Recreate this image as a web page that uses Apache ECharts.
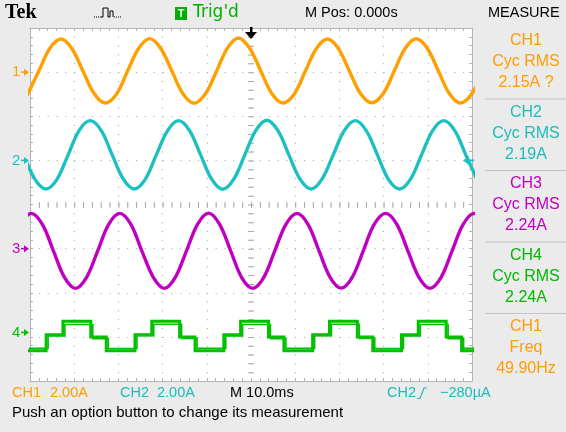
<!DOCTYPE html>
<html>
<head>
<meta charset="utf-8">
<script src="https://cdn.jsdelivr.net/npm/echarts@6/dist/echarts.min.js"></script>
<style>
  html, body { margin: 0; padding: 0; background: #ebebeb; }
  #scope { width: 566px; height: 432px; }
</style>
</head>
<body>
<div id="scope"></div>
<script>
// ---- channel setup -------------------------------------------------------
const channelLabels = ['1', '2', '3', '4'];
const channelColors = ['#ffa000', '#1cc0c0', '#c000c0', '#00c000'];
const channelPositions = [3.0, 1.0, -1.0, -2.9];   // ground marker, divisions
const ampsPerDiv = [2, 2, 2, 2];

// ---- acquired traces: time (ms from trigger) and current (A) --------------
const ch1Time = [-50.5, -48.0, -45.5, -43.0, -40.5, -38.0, -35.5, -33.0, -30.4, -27.9,
  -25.4, -22.9, -20.4, -17.9, -15.4, -12.9, -10.3, -7.8, -5.3, -2.8, -0.3, 2.2, 4.7,
  7.2, 9.8, 12.3, 14.8, 17.3, 19.8, 22.3, 24.8, 27.3, 29.9, 32.4, 34.9, 37.4, 39.9,
  42.4, 44.9, 47.4, 50.0, 52.5];
const ch1Amps = [-0.98, 0.05, 1.08, 1.50, 1.06, 0.04, -0.97, -1.40, -0.99, 0.06,
  1.08, 1.52, 1.07, 0.05, -0.98, -1.41, -0.98, 0.04, 1.10, 1.55, 1.08, 0.06, -0.97,
  -1.40, -0.99, 0.05, 1.07, 1.50, 1.06, 0.03, -0.98, -1.39, -0.98, 0.05, 1.08, 1.51,
  1.07, 0.05, -0.98, -1.40, -0.97, 0.06];

const ch2Time = [-51.4, -48.9, -46.4, -43.9, -41.4, -38.9, -36.4, -33.9, -31.4, -28.9,
  -26.4, -23.9, -21.4, -18.9, -16.4, -13.9, -11.4, -8.9, -6.4, -3.9, -1.4, 1.1, 3.6,
  6.1, 8.6, 11.1, 13.6, 16.1, 18.6, 21.1, 23.6, 26.1, 28.6, 31.1, 33.6, 36.1, 38.6,
  41.1, 43.6, 46.1, 48.6, 51.1];
const ch2Amps = [0.25, -0.85, -1.30, -0.86, 0.24, 1.35, 1.80, 1.36, 0.25, -0.84,
  -1.30, -0.85, 0.26, 1.34, 1.80, 1.35, 0.25, -0.85, -1.31, -0.85, 0.25, 1.36, 1.82,
  1.35, 0.24, -0.85, -1.30, -0.84, 0.25, 1.35, 1.80, 1.34, 0.25, -0.86, -1.30, -0.85,
  0.26, 1.35, 1.80, 1.35, 0.25, -0.85];

const ch3Time = [-52.2, -49.7, -47.2, -44.7, -42.2, -39.7, -37.2, -34.7, -32.2, -29.7,
  -27.2, -24.7, -22.1, -19.6, -17.1, -14.6, -12.1, -9.6, -7.1, -4.6, -2.1, 0.4, 2.9,
  5.4, 7.9, 10.4, 12.9, 15.4, 17.9, 20.4, 22.9, 25.4, 27.9, 30.5, 33.0, 35.5, 38.0,
  40.5, 43.0, 45.5, 48.0, 50.5, 53.0];
const ch3Amps = [1.10, 1.60, 1.10, -0.10, -1.30, -1.80, -1.30, -0.11, 1.10, 1.60,
  1.11, -0.10, -1.30, -1.80, -1.29, -0.10, 1.10, 1.61, 1.10, -0.10, -1.31, -1.80,
  -1.30, -0.09, 1.10, 1.60, 1.10, -0.10, -1.30, -1.79, -1.30, -0.10, 1.11, 1.60,
  1.10, -0.10, -1.30, -1.80, -1.30, -0.10, 1.10, 1.60, 1.10];

// CH4 is a stepped current; two overlaid acquisitions
const ch4Time = [-52.85, -46.35, -46.35, -42.55, -42.55, -36.25, -36.25, -32.75,
  -32.75, -26.25, -26.25, -22.45, -22.45, -16.15, -16.15, -12.65, -12.65, -6.15,
  -6.15, -2.35, -2.35, 3.95, 3.95, 7.45, 7.45, 13.95, 13.95, 17.75, 17.75, 24.05,
  24.05, 27.55, 27.55, 34.05, 34.05, 37.85, 37.85, 44.15, 44.15, 47.65, 47.65, 54.15];
const ch4Amps = [-0.83, -0.83, -0.10, -0.10, 0.51, 0.51, -0.20, -0.20, -0.83, -0.83,
  -0.10, -0.10, 0.51, 0.51, -0.20, -0.20, -0.83, -0.83, -0.10, -0.10, 0.51, 0.51,
  -0.20, -0.20, -0.83, -0.83, -0.10, -0.10, 0.51, 0.51, -0.20, -0.20, -0.83, -0.83,
  -0.10, -0.10, 0.51, 0.51, -0.20, -0.20, -0.83, -0.83];
const ch4bTime = [-52.4, -45.9, -45.9, -42.1, -42.1, -35.8, -35.8, -32.3, -32.3, -25.8,
  -25.8, -22.0, -22.0, -15.7, -15.7, -12.2, -12.2, -5.7, -5.7, -1.9, -1.9, 4.4, 4.4,
  7.9, 7.9, 14.4, 14.4, 18.2, 18.2, 24.5, 24.5, 28.0, 28.0, 34.5, 34.5, 38.3, 38.3,
  44.6, 44.6, 48.1, 48.1, 54.6];
const ch4bAmps = [-0.72, -0.72, -0.16, -0.16, 0.36, 0.36, -0.28, -0.28, -0.73, -0.73,
  -0.15, -0.15, 0.37, 0.37, -0.27, -0.27, -0.72, -0.72, -0.16, -0.16, 0.36, 0.36,
  -0.28, -0.28, -0.72, -0.72, -0.15, -0.15, 0.37, 0.37, -0.27, -0.27, -0.73, -0.73,
  -0.16, -0.16, 0.36, 0.36, -0.28, -0.28, -0.72, -0.72];

// ---- readouts ------------------------------------------------------------
const measureSources = ['CH1', 'CH2', 'CH3', 'CH4', 'CH1'];
const measureKinds = ['Cyc RMS', 'Cyc RMS', 'Cyc RMS', 'Cyc RMS', 'Freq'];
const measureValues = ['2.15A ?', '2.19A', '2.24A', '2.24A', '49.90Hz'];
const measureColors = ['#ff9c00', '#1cbcbc', '#c000c0', '#00b800', '#ff9c00'];
const triggerLevelAmps = -0.00028;

// ---- drawing -------------------------------------------------------------
const FONT = '"Liberation Sans", Arial, sans-serif';
const gridColor = '#b4b4b4';
const dotColor = '#a8a8a8';

function toDivisions(times, amps, ch) {
  return times.map((t, i) => [t, channelPositions[ch] + amps[i] / ampsPerDiv[ch]]);
}

const traces = [
  { ch: 0, data: toDivisions(ch1Time, ch1Amps, 0), width: 3.4 },
  { ch: 1, data: toDivisions(ch2Time, ch2Amps, 1), width: 3.4 },
  { ch: 2, data: toDivisions(ch3Time, ch3Amps, 2), width: 3.4 },
  { ch: 3, data: toDivisions(ch4bTime, ch4bAmps, 3), width: 1.6 },
  { ch: 3, data: toDivisions(ch4Time, ch4Amps, 3), width: 3 }
];

function edgeAxis(extra) {
  return Object.assign({
    type: 'value',
    axisLine: { show: true, onZero: false, lineStyle: { color: gridColor, width: 1 } },
    axisTick: { show: true, inside: true, length: 3, lineStyle: { color: gridColor } },
    minorTick: { show: true, splitNumber: 5, length: 3, lineStyle: { color: gridColor } },
    axisLabel: { show: false },
    splitLine: { show: false }
  }, extra);
}

const xRange = { min: -50, max: 50 };
const yRange = { min: -4, max: 4 };

const option = {
  animation: false,
  backgroundColor: '#ebebeb',
  grid: { left: 30, top: 28, width: 442, height: 353, show: true,
          backgroundColor: '#ffffff', borderWidth: 0 },
  xAxis: [
    edgeAxis(Object.assign({ position: 'bottom', interval: 10,
      splitLine: { show: true, showMinLine: false, showMaxLine: false,
        lineStyle: { color: dotColor, width: 1.2, type: [1, 7.825] } } }, xRange)),
    edgeAxis(Object.assign({ position: 'top', interval: 10 }, xRange)),
    Object.assign({ type: 'value', position: 'bottom', interval: 50,
      axisLine: { show: false, onZero: false }, axisTick: { show: false },
      axisLabel: { show: false },
      splitLine: { show: true, showMinLine: false, showMaxLine: false,
        lineStyle: { color: dotColor, width: 6, type: [1, 7.825] } } }, xRange)
  ],
  yAxis: [
    edgeAxis(Object.assign({ position: 'left', interval: 1,
      splitLine: { show: true, showMinLine: false, showMaxLine: false,
        lineStyle: { color: dotColor, width: 1.2, type: [1, 7.84] } } }, yRange)),
    edgeAxis(Object.assign({ position: 'right', interval: 1 }, yRange)),
    Object.assign({ type: 'value', position: 'left', interval: 4,
      axisLine: { show: false, onZero: false }, axisTick: { show: false },
      axisLabel: { show: false },
      splitLine: { show: true, showMinLine: false, showMaxLine: false,
        lineStyle: { color: dotColor, width: 6, type: [1, 7.84] } } }, yRange)
  ],
  series: traces.map((tr, i) => ({
    type: 'line',
    name: 'CH' + channelLabels[tr.ch],
    xAxisIndex: 0,
    yAxisIndex: 0,
    data: tr.data,
    showSymbol: false,
    smooth: tr.ch === 3 ? false : 0.35,
    clip: true,
    lineStyle: { color: channelColors[tr.ch], width: tr.width, cap: 'square', join: 'miter' },
    z: 5 + i
  }))
};

const chart = echarts.init(document.getElementById('scope'), null, { renderer: 'canvas' });
chart.setOption(option);

const toPx = (t, div) => chart.convertToPixel({ xAxisIndex: 0, yAxisIndex: 0 }, [t, div]);

function text(x, y, str, color, size, extra) {
  return {
    type: 'text', x: x, y: y, z: 100,
    style: Object.assign({ text: str, fill: color, font: size + 'px ' + FONT,
      align: 'left', verticalAlign: 'middle' }, extra || {})
  };
}

const g = [];

// header line
g.push(text(5, 13, 'Tek', '#000', 20, { font: 'bold 20px "Liberation Serif", "DejaVu Serif", serif' }));
g.push({ type: 'polyline', z: 100, shape: { points: [[100, 17], [103, 17], [103, 8], [108, 8], [108, 17], [110, 17], [110, 11], [113, 11], [113, 17]] },
  style: { stroke: '#000', lineWidth: 1, fill: null } });
g.push({ type: 'polyline', z: 100, shape: { points: [[94, 17], [99, 17]] },
  style: { stroke: '#000', lineWidth: 1, lineDash: [1, 1], fill: null } });
g.push({ type: 'polyline', z: 100, shape: { points: [[114, 17], [122, 17]] },
  style: { stroke: '#000', lineWidth: 1, lineDash: [1, 1], fill: null } });
g.push({ type: 'rect', z: 100, shape: { x: 175, y: 7, width: 12, height: 13 }, style: { fill: '#00b000' } });
g.push(text(181, 13.5, 'T', '#fff', 11, { align: 'center', font: 'bold 11px ' + FONT }));
g.push(text(193, 13, "Trig'd", '#00b000', 17, { font: '17px "DejaVu Sans", ' + FONT }));
g.push(text(305, 13, 'M Pos: 0.000s', '#000', 14.5));
g.push(text(488, 13, 'MEASURE', '#000', 14.5));

// measurement panel
const panelTop = 28, boxH = 71.5;
for (let i = 0; i < measureSources.length; i++) {
  const top = panelTop + i * boxH;
  const c = measureColors[i];
  g.push(text(526, top + 13, measureSources[i], c, 16, { align: 'center' }));
  g.push(text(526, top + 34, measureKinds[i], c, 16, { align: 'center' }));
  g.push(text(526, top + 55, measureValues[i], c, 16, { align: 'center' }));
  if (i > 0) {
    g.push({ type: 'line', z: 100, shape: { x1: 485, y1: top - 0.5, x2: 566, y2: top - 0.5 },
      style: { stroke: '#c4c4c4', lineWidth: 1 } });
  }
}

// channel ground markers on the left edge
for (let ch = 0; ch < 4; ch++) {
  const p = toPx(-50, channelPositions[ch]);
  const x = p[0] - 1, y = p[1];
  const c = channelColors[ch];
  g.push(text(x - 17, y, channelLabels[ch], c, 15));
  g.push({ type: 'polygon', z: 100, shape: { points: [[x - 5, y - 3.5], [x, y], [x - 5, y + 3.5]] }, style: { fill: c } });
  g.push({ type: 'line', z: 100, shape: { x1: x - 8, y1: y, x2: x - 4, y2: y }, style: { stroke: c, lineWidth: 1.5 } });
}

// trigger position (top) and trigger level (right edge, CH2)
const trigPos = toPx(0, 4);
g.push({ type: 'polygon', z: 100, shape: { points: [[trigPos[0] - 6, trigPos[1] + 4], [trigPos[0] + 6, trigPos[1] + 4], [trigPos[0], trigPos[1] + 11]] }, style: { fill: '#000' } });
g.push({ type: 'rect', z: 100, shape: { x: trigPos[0] - 1, y: trigPos[1] - 1, width: 2.5, height: 6 }, style: { fill: '#000' } });
const trigLvl = toPx(50, channelPositions[1] + triggerLevelAmps / ampsPerDiv[1]);
g.push({ type: 'polygon', z: 100, shape: { points: [[trigLvl[0] - 9, trigLvl[1]], [trigLvl[0] - 3, trigLvl[1] - 4.5], [trigLvl[0] - 3, trigLvl[1] + 4.5]] }, style: { fill: channelColors[1] } });
g.push({ type: 'line', z: 100, shape: { x1: trigLvl[0] - 4, y1: trigLvl[1], x2: trigLvl[0] + 2, y2: trigLvl[1] }, style: { stroke: channelColors[1], lineWidth: 2 } });

// status line
g.push(text(12, 393, 'CH1', '#ff9c00', 14.5));
g.push(text(50, 393, '2.00A', '#ff9c00', 14.5));
g.push(text(120, 393, 'CH2', '#1cbcbc', 14.5));
g.push(text(157, 393, '2.00A', '#1cbcbc', 14.5));
g.push(text(230, 393, 'M 10.0ms', '#000', 14.5));
g.push(text(387, 393, 'CH2', '#1cbcbc', 14.5));
g.push({ type: 'polyline', z: 100, shape: { points: [[417, 398.5], [420, 398.5], [424, 388], [427, 388]] },
  style: { stroke: '#1cbcbc', lineWidth: 1.2, fill: null } });
g.push(text(440, 393, '\u2212280\u00b5A', '#1cbcbc', 14.5));
g.push(text(12, 413, 'Push an option button to change its measurement', '#000', 15));

chart.setOption({ graphic: g });
</script>
</body>
</html>
